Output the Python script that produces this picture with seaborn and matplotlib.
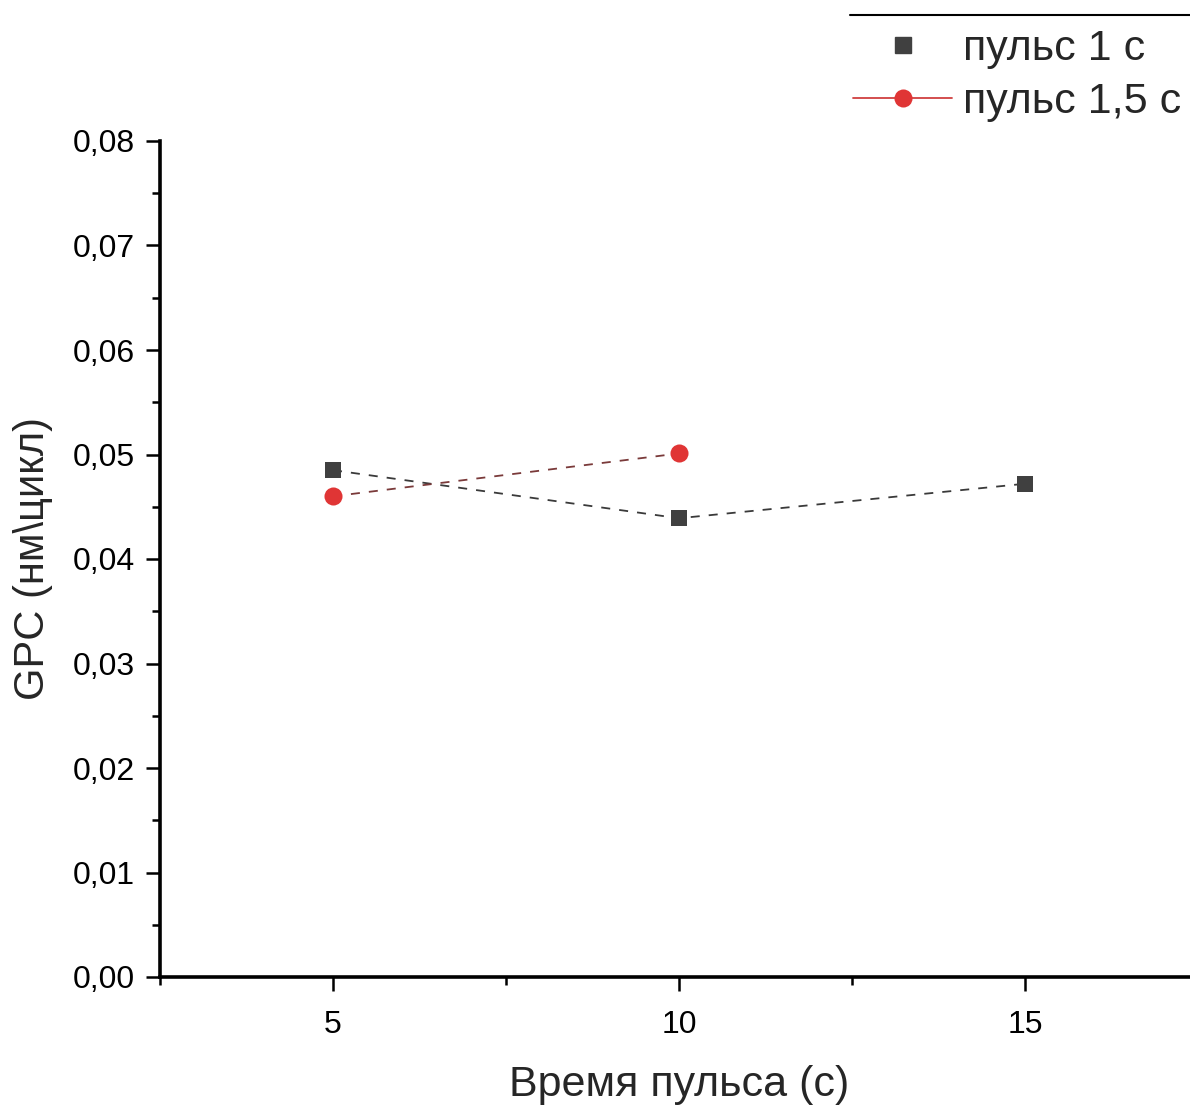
import numpy as np
import pandas as pd
import matplotlib
matplotlib.use('Agg')
import matplotlib.pyplot as plt
from matplotlib.lines import Line2D
from matplotlib.ticker import FuncFormatter, MultipleLocator
import seaborn as sns

# данные
x_1s = [5, 10, 15]
gpc_1s = [0.0485, 0.0439, 0.0472]
x_15s = [5, 10]
gpc_15s = [0.0460, 0.0501]

label_1s = 'пульс 1 с'
label_15s = 'пульс 1,5 с'
xlabel = 'Время пульса (с)'
ylabel = 'GPC (нм\\цикл)'

sns.set_style('ticks')
plt.rcParams['font.family'] = ['Liberation Sans', 'DejaVu Sans']

fig = plt.figure(figsize=(11.9, 11.08), dpi=100)
ax = fig.add_axes([160 / 1190, 131 / 1108, 1038 / 1190, 836 / 1108])

df1 = pd.DataFrame({'x': x_1s, 'y': gpc_1s})
df2 = pd.DataFrame({'x': x_15s, 'y': gpc_15s})

sns.lineplot(data=df1, x='x', y='y', ax=ax, color='#3a3a3a', linestyle=(0, (5, 5)),
             linewidth=1.3, marker='s', markersize=12, markeredgewidth=0,
             markerfacecolor='#404040', zorder=3)
sns.lineplot(data=df2, x='x', y='y', ax=ax, color='#7a3a3a', linestyle=(0, (5, 5)),
             linewidth=1.3, marker='o', markersize=13, markeredgewidth=0,
             markerfacecolor='#e03535', zorder=3)

ax.set_xlim(2.5, 17.5)
ax.set_ylim(0, 0.08)
ax.xaxis.set_major_locator(MultipleLocator(5))
ax.xaxis.set_minor_locator(MultipleLocator(2.5))
ax.yaxis.set_major_locator(MultipleLocator(0.01))
ax.yaxis.set_minor_locator(MultipleLocator(0.005))
ax.yaxis.set_major_formatter(FuncFormatter(lambda v, p: f'{v:.2f}'.replace('.', ',')))
ax.xaxis.set_major_formatter(FuncFormatter(lambda v, p: f'{v:g}'))

for s in ['top', 'right']:
    ax.spines[s].set_visible(False)
for s in ['left', 'bottom']:
    ax.spines[s].set_linewidth(2.6)
    ax.spines[s].set_color('black')

ax.tick_params(which='major', direction='out', length=10, width=1.8, labelsize=23, pad=8, colors='black')
ax.tick_params(which='minor', direction='out', length=6, width=1.8, colors='black')
ax.tick_params(axis='x', pad=14)

ax.set_xlabel(xlabel, fontsize=31, labelpad=18)
ax.set_ylabel(ylabel, fontsize=30, labelpad=14)

handles = [
    Line2D([], [], linestyle='none', marker='s', markersize=11, color='#404040'),
    Line2D([], [], linestyle='-', linewidth=1.3, marker='o', markersize=13,
           color='#d04040', markerfacecolor='#e03535', markeredgewidth=0),
]
fig.legend(handles, [label_1s, label_15s], loc='upper left', bbox_to_anchor=(853 / 1190, 1 - 29 / 1108),
           frameon=False, fontsize=31, handlelength=2.3, handletextpad=0.25, labelspacing=0.3,
           borderaxespad=0, borderpad=0)
fig.lines.append(Line2D([850 / 1190, 1.0], [1 - 15 / 1108, 1 - 15 / 1108],
                        transform=fig.transFigure, color='black', linewidth=1.5))

fig.savefig('out.png', dpi=100)
